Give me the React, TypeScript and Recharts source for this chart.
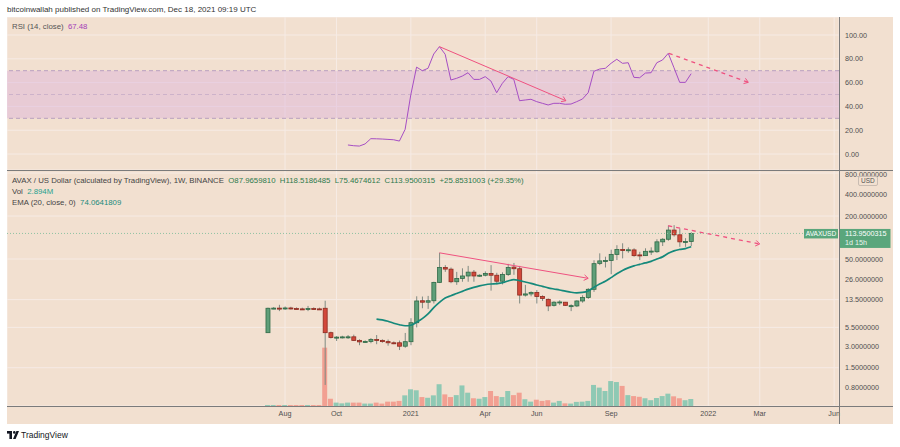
import React from 'react';
import {
  ComposedChart,
  LineChart,
  Line,
  Bar,
  XAxis,
  YAxis,
  CartesianGrid,
  ReferenceLine,
  ReferenceArea,
  Cell,
} from 'recharts';

// weekly candles, x = weeks counted from the week of Aug 3 2020
const firstWeek = -3;
const opens = [
  4.64, 10.2, 10.25, 10.1, 10.3, 10.1, 10.0, 9.9, 10.1, 10.0,
  10.2, 4.64, 3.96, 4.0, 4.03, 4.06, 3.62, 3.45, 3.5, 3.72,
  3.62, 3.48, 3.35, 3.35, 3.0, 3.47, 6.4, 13.0, 12.4, 13.0,
  23.5, 38.0, 36.0, 24.0, 26.7, 28.9, 32.7, 29.3, 29.6, 31.3,
  29.6, 24.4, 30.4, 38.5, 36.5, 15.6, 16.2, 17.0, 14.9, 13.6,
  11.2, 12.3, 12.4, 11.0, 11.0, 12.9, 14.4, 18.8, 43.4, 47.0,
  47.5, 58.0, 68.0, 66.5, 67.0, 57.0, 55.7, 63.5, 63.2, 86.9,
  94.5, 127.0, 109.0, 86.0, 87.965981,
];
const highs = [
  10.4, 10.6, 11.4, 10.8, 10.7, 10.5, 10.4, 11.0, 10.5, 10.4,
  13.0, 4.8, 4.15, 4.2, 4.3, 4.35, 3.75, 3.62, 3.9, 4.3,
  3.75, 3.72, 3.5, 3.6, 4.6, 7.4, 15.0, 14.9, 15.2, 24.0,
  61.0, 41.0, 38.0, 33.0, 37.0, 40.0, 35.0, 30.5, 33.5, 41.0,
  32.0, 32.5, 42.7, 44.0, 40.0, 21.7, 17.6, 18.4, 15.5, 14.0,
  12.8, 13.2, 12.5, 11.6, 13.2, 15.5, 19.5, 48.0, 60.0, 53.8,
  67.4, 78.0, 83.0, 72.8, 70.6, 63.0, 70.6, 72.8, 94.5, 97.8,
  147.0, 149.0, 134.0, 97.8, 118.5186485,
];
const lows = [
  4.6, 9.9, 9.3, 9.7, 9.8, 9.9, 9.7, 9.3, 9.8, 9.8,
  0.86, 3.85, 3.55, 3.85, 3.8, 3.55, 3.1, 3.35, 3.3, 3.2,
  3.35, 3.05, 3.2, 2.65, 2.85, 3.1, 5.5, 10.2, 10.0, 11.9,
  23.0, 33.0, 22.9, 21.7, 24.0, 24.0, 24.0, 28.0, 28.5, 18.0,
  22.0, 22.0, 29.0, 30.0, 11.9, 14.9, 15.0, 11.9, 12.9, 9.3,
  10.8, 11.3, 11.0, 9.3, 10.6, 12.2, 13.8, 17.3, 41.0, 38.0,
  30.6, 48.3, 51.0, 61.0, 53.8, 48.3, 55.0, 56.9, 61.0, 76.0,
  90.0, 103.0, 74.0, 74.0, 75.4674612,
];
const closes = [
  10.2, 10.25, 10.1, 10.3, 10.1, 10.0, 9.9, 10.1, 10.0, 9.95,
  4.64, 3.96, 4.02, 4.05, 4.06, 3.62, 3.45, 3.5, 3.72, 3.62,
  3.48, 3.35, 3.32, 3.0, 3.47, 6.4, 12.9, 12.4, 13.0, 23.5,
  38.0, 36.1, 24.0, 26.7, 28.9, 32.7, 28.9, 29.6, 31.3, 29.6,
  24.4, 30.4, 38.0, 36.5, 15.6, 16.2, 17.0, 14.9, 14.0, 11.0,
  12.4, 12.5, 11.2, 11.1, 12.9, 14.4, 18.8, 43.0, 47.0, 47.5,
  58.0, 68.0, 65.6, 67.3, 55.7, 56.0, 64.0, 64.5, 86.9, 94.5,
  127.0, 109.0, 86.9, 88.0, 113.9500315,
];
// volume, millions
const volumes = [
  0.4, 0.4, 0.4, 0.4, 0.4, 0.4, 0.4, 0.4, 0.4, 0.4,
  24.1, 3.0, 1.4, 1.1, 1.4, 1.4, 1.4, 1.0, 1.0, 1.4,
  1.0, 1.8, 1.8, 2.1, 4.4, 6.9, 6.5, 3.7, 3.4, 4.4,
  9.0, 4.8, 3.7, 4.5, 8.5, 5.5, 3.2, 3.0, 3.7, 6.2,
  4.1, 3.7, 6.2, 4.5, 5.5, 2.8, 1.8, 2.6, 2.1, 2.4,
  1.4, 2.1, 1.1, 1.0, 1.7, 1.8, 2.1, 8.7, 7.6, 6.2,
  10.3, 9.9, 8.3, 4.5, 4.1, 3.8, 3.2, 2.4, 3.3, 4.1,
  5.1, 4.0, 3.2, 2.4, 2.894,
];
const emaStart = 16;
const ema20 = [
  7.2, 7.0, 6.7, 6.3, 6.0, 5.8, 5.9, 6.5, 7.3, 8.5,
  10.4, 12.3, 14.2, 15.3, 16.4, 17.6, 18.9, 20.0, 21.0, 21.8,
  22.3, 22.6, 23.2, 24.6, 25.7, 24.9, 23.8, 22.8, 21.6, 20.7,
  19.7, 19.0, 18.4, 17.7, 17.1, 16.8, 17.0, 17.8, 20.0, 22.3,
  24.3, 27.4, 31.0, 34.5, 37.5, 40.0, 42.0, 44.0, 46.3, 50.0,
  53.5, 60.0, 65.0, 68.0, 70.0, 74.0641809,
];
const rsiStart = 11;
const rsi14 = [
  7.6, 7.0, 6.7, 8.5, 12.9, 12.8, 12.6, 12.3, 12.0, 10.9,
  20.7, 50.0, 73.0, 70.0, 72.0, 84.0, 90.2, 83.8, 62.2, 63.6,
  65.5, 68.3, 62.7, 62.7, 65.0, 61.3, 51.5, 59.4, 65.0, 62.7,
  44.8, 45.4, 46.0, 44.0, 42.6, 41.2, 42.6, 42.6, 41.8, 42.0,
  44.0, 46.2, 51.5, 69.5, 71.4, 72.0, 76.2, 79.6, 76.2, 76.7,
  64.4, 64.1, 68.0, 68.3, 76.7, 79.0, 84.6, 72.5, 60.2, 60.2,
  67.48,
];

const monthTicks = [0, 9, 22, 35, 44, 57, 74, 83, 96];
const monthLabels = ['Aug', 'Oct', '2021', 'Apr', 'Jun', 'Sep', '2022', 'Mar', 'Jun'];
const priceTicks = [0.8, 1.5, 3, 5.5, 13.5, 26, 50, 200, 400, 800];
const rsiTicks = [0, 20, 40, 60, 80, 100];
const lastPrice = 113.9500315;

// hand-drawn trend lines: [week, value]
const rsiTrend = [[27, 90.2], [49.1, 44.8]];
const rsiTrendDashed = [[67.1, 84.6], [81, 60.2]];
const priceTrend = [[27, 61], [53, 26.8]];
const priceTrendDashed = [[67, 146], [83, 81]];

const rows = opens.map((o, i) => {
  const t = firstWeek + i;
  return {
    t,
    open: o,
    high: highs[i],
    low: lows[i],
    close: closes[i],
    vol: volumes[i],
    ema: t >= emaStart ? ema20[t - emaStart] : null,
    rsi: t >= rsiStart ? rsi14[t - rsiStart] : null,
  };
});

const xDomain: [number, number] = [-48.6, 96.85];
const BG = '#f2e0d0';
const GRID = '#f6ebe5';
const AXIS_TXT = '#4f4f4f';
const FONT = '"Liberation Sans", Arial, sans-serif';
const PINK = '#ef5280';

function Candle(props: any) {
  const { x, y, width, height, payload } = props;
  if (!payload || height == null) return null;
  const top = Math.min(y, y + height);
  const bot = Math.max(y, y + height);
  const lh = Math.log(payload.high);
  const ll = Math.log(payload.low);
  const py = (v: number) => top + ((lh - Math.log(v)) / (lh - ll)) * (bot - top);
  const up = payload.close >= payload.open;
  const b0 = py(Math.max(payload.open, payload.close));
  const b1 = py(Math.min(payload.open, payload.close));
  const cx = x + width / 2;
  return (
    <g>
      <line x1={cx} x2={cx} y1={top} y2={bot} stroke="#7f8a82" strokeWidth={1} />
      <rect
        x={x}
        y={b0}
        width={width}
        height={Math.max(1, b1 - b0)}
        fill={up ? '#5f9f79' : '#d2483a'}
        stroke={up ? '#2f6a46' : '#8d2b20'}
        strokeWidth={0.8}
      />
    </g>
  );
}

function Trend(props: any) {
  const { x1, y1, x2, y2, dashed } = props;
  const a = Math.atan2(y2 - y1, x2 - x1);
  const s = 5;
  const p1 = `${x2 - s * Math.cos(a - 0.6)},${y2 - s * Math.sin(a - 0.6)}`;
  const p2 = `${x2 - s * Math.cos(a + 0.6)},${y2 - s * Math.sin(a + 0.6)}`;
  return (
    <g>
      <line
        x1={x1}
        y1={y1}
        x2={x2}
        y2={y2}
        stroke={PINK}
        strokeWidth={dashed ? 1.3 : 1}
        strokeDasharray={dashed ? '4 4' : undefined}
      />
      <polyline points={`${p1} ${x2},${y2} ${p2}`} fill="none" stroke={PINK} strokeWidth={1} />
    </g>
  );
}

function PriceTag(props: any) {
  const left = Math.min(props.x1, props.x2);
  const right = Math.max(props.x1, props.x2);
  const y = props.y1;
  return (
    <g>
      <line x1={left} x2={right - 35} y1={y} y2={y} stroke="#8fc2a2" strokeDasharray="1 2" />
      <rect x={right - 35} y={y - 4.5} width={34} height={9.5} fill="#5aa67c" />
      <text x={right - 18} y={y + 2.5} textAnchor="middle" fill="#fff" fontSize={6.6} fontFamily={FONT}>
        AVAXUSD
      </text>
      <rect x={right + 0.5} y={y - 4.5} width={51} height={19} fill="#5aa67c" />
      <text x={right + 6} y={y + 2.6} fill="#fff" fontSize={7.2} fontFamily={FONT}>
        113.9500315
      </text>
      <text x={right + 6} y={y + 11.5} fill="#eaf5ee" fontSize={7.2} fontFamily={FONT}>
        1d 15h
      </text>
    </g>
  );
}

const seg = (p: number[][]) => p.map(([x, y]) => ({ x, y }));

export default function App() {
  const tick = { fontSize: 7.2, fill: AXIS_TXT, fontFamily: FONT };
  return (
    <div
      style={{
        position: 'absolute',
        left: 0,
        top: 0,
        width: 900,
        height: 447,
        background: '#fff',
        fontFamily: FONT,
        overflow: 'hidden',
      }}
    >
      <div style={{ position: 'absolute', left: 7, top: 5, fontSize: 8, lineHeight: '10px', color: '#333' }}>
        bitcoinwallah published on TradingView.com, Dec 18, 2021 09:19 UTC
      </div>

      <div style={{ position: 'absolute', left: 7, top: 17, width: 886, height: 407, background: BG }}>
        {/* RSI pane */}
        <div style={{ position: 'absolute', left: 0, top: 0 }}>
          <LineChart width={886} height={153} data={rows} margin={{ top: 0, right: 0, bottom: 0, left: 0 }}>
            <XAxis type="number" dataKey="t" domain={xDomain} ticks={monthTicks} allowDataOverflow hide />
            <YAxis
              orientation="right"
              width={54}
              domain={[-13.4, 115.1]}
              ticks={rsiTicks}
              allowDataOverflow
              axisLine={false}
              tickLine={false}
              tickSize={4}
              tickMargin={2}
              tick={tick}
              tickFormatter={(v: number) => v.toFixed(2)}
            />
            <CartesianGrid stroke={GRID} strokeWidth={1} />
            <ReferenceArea y1={30} y2={70} fill="#dbb2dc" fillOpacity={0.45} stroke="none" />
            <ReferenceLine y={70} stroke="#b9a1bf" strokeDasharray="4 3" />
            <ReferenceLine y={50} stroke="#cdb2ca" strokeDasharray="4 3" />
            <ReferenceLine y={30} stroke="#b9a1bf" strokeDasharray="4 3" />
            <Line
              type="linear"
              dataKey="rsi"
              stroke="#a64ec4"
              strokeWidth={1}
              dot={false}
              isAnimationActive={false}
            />
            <ReferenceLine segment={seg(rsiTrend)} shape={(p: any) => <Trend {...p} />} />
            <ReferenceLine segment={seg(rsiTrendDashed)} shape={(p: any) => <Trend {...p} dashed />} />
          </LineChart>
        </div>
        <div style={{ position: 'absolute', left: 5, top: 5, fontSize: 7.8, lineHeight: '10px', color: '#555' }}>
          RSI (14, close)&nbsp; <span style={{ color: '#a23db8' }}>67.48</span>
        </div>

        {/* price pane */}
        <div style={{ position: 'absolute', left: 0, top: 153 }}>
          <ComposedChart width={886} height={254} data={rows} margin={{ top: 0, right: 0, bottom: 0, left: 0 }}>
            <XAxis
              type="number"
              dataKey="t"
              domain={xDomain}
              ticks={monthTicks}
              allowDataOverflow
              height={18}
              axisLine={false}
              tickLine={false}
              tickSize={4}
              tickMargin={1}
              tick={tick}
              tickFormatter={(v: number) => monthLabels[monthTicks.indexOf(v)] ?? ''}
            />
            <XAxis xAxisId="v" type="number" dataKey="t" domain={xDomain} allowDataOverflow hide />
            <YAxis
              orientation="right"
              width={54}
              scale="log"
              domain={[0.436, 882]}
              ticks={priceTicks}
              allowDataOverflow
              axisLine={false}
              tickLine={false}
              tickSize={4}
              tickMargin={2}
              tick={tick}
              tickFormatter={(v: number) => v.toFixed(7)}
            />
            <YAxis yAxisId="v" domain={[0, 97.5]} hide />
            <CartesianGrid stroke={GRID} strokeWidth={1} />
            <Bar xAxisId="v" yAxisId="v" dataKey="vol" barSize={5} isAnimationActive={false}>
              {rows.map((r) => (
                <Cell key={r.t} fill={r.close >= r.open ? '#8fc9b4' : '#f2a092'} />
              ))}
            </Bar>
            <ReferenceLine y={lastPrice} shape={(p: any) => <PriceTag {...p} />} />
            <Line
              type="monotone"
              dataKey="ema"
              stroke="#15897b"
              strokeWidth={1.7}
              dot={false}
              isAnimationActive={false}
            />
            <Bar
              dataKey={(d: any) => [d.low, d.high]}
              barSize={4}
              shape={(p: any) => <Candle {...p} />}
              isAnimationActive={false}
            />
            <ReferenceLine segment={seg(priceTrend)} shape={(p: any) => <Trend {...p} />} />
            <ReferenceLine segment={seg(priceTrendDashed)} shape={(p: any) => <Trend {...p} dashed />} />
          </ComposedChart>
        </div>

        <div style={{ position: 'absolute', left: 5, top: 159, fontSize: 7.8, lineHeight: '10px', color: '#444', whiteSpace: 'nowrap' }}>
          AVAX / US Dollar (calculated by TradingView), 1W, BINANCE&nbsp;
          <span style={{ color: '#2e7a4d' }}>
            &nbsp;O87.9659810&nbsp;&nbsp;H118.5186485&nbsp;&nbsp;L75.4674612&nbsp;&nbsp;C113.9500315&nbsp;&nbsp;+25.8531003 (+29.35%)
          </span>
        </div>
        <div style={{ position: 'absolute', left: 5, top: 170, fontSize: 7.8, lineHeight: '10px', color: '#444' }}>
          Vol&nbsp; <span style={{ color: '#26a08f' }}>2.894M</span>
        </div>
        <div style={{ position: 'absolute', left: 5, top: 181, fontSize: 7.8, lineHeight: '10px', color: '#444' }}>
          EMA (20, close, 0)&nbsp; <span style={{ color: '#1a8a7c' }}>74.0641809</span>
        </div>
        <div
          style={{
            position: 'absolute',
            left: 851,
            top: 159,
            fontSize: 6.5,
            lineHeight: '8px',
            padding: '0 2px',
            color: '#555',
            background: BG,
            border: '1px solid #c9bcb2',
            borderRadius: 2,
          }}
        >
          USD
        </div>

        {/* pane separators */}
        <div style={{ position: 'absolute', left: 0, top: 153, width: 886, height: 1, background: '#7b7b7b' }} />
        <div style={{ position: 'absolute', left: 0, top: 389, width: 886, height: 1, background: '#7b7b7b' }} />
        <div style={{ position: 'absolute', left: 832, top: 0, width: 1, height: 407, background: '#7b7b7b' }} />
      </div>

      <div style={{ position: 'absolute', left: 7, top: 430, display: 'flex', alignItems: 'center', gap: 2 }}>
        <svg width={12} height={8} viewBox="0 0 12 8">
          <rect x={0} y={0} width={5} height={2.6} fill="#131722" />
          <rect x={2.4} y={0} width={2.6} height={8} fill="#131722" />
          <circle cx={7.3} cy={1.4} r={1.3} fill="#131722" />
          <polygon points="9.4,0 12,0 8.6,8 6,8" fill="#131722" />
        </svg>
        <span style={{ fontSize: 8.5, lineHeight: '10px', color: '#131722' }}>TradingView</span>
      </div>
    </div>
  );
}
